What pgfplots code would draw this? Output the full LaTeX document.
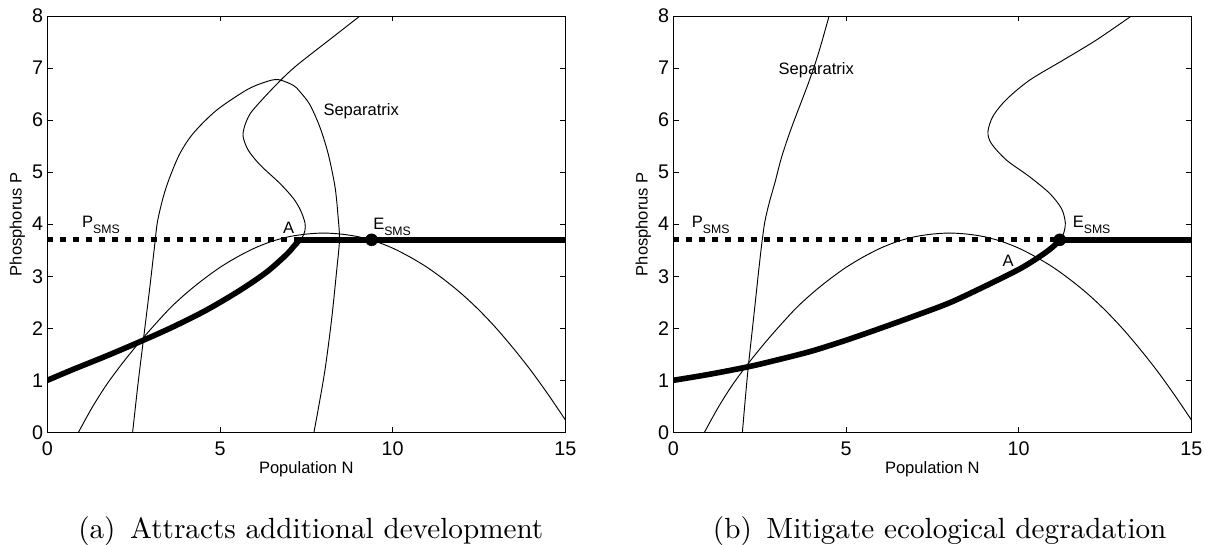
\documentclass[border=0pt]{standalone}
\usepackage{pgfplots}
\pgfplotsset{compat=1.18}
\usepackage{fontspec}
\newfontfamily\arial{Liberation Sans}
\newfontfamily\capfont{lmroman10-regular}[Extension=.otf]
\newcommand\sms{\raisebox{-4.4pt}{\fontsize{9.2}{9.2}\selectfont SMS}}
\tikzset{
  thinc/.style={black, line width=0.7pt, smooth, tension=0.5},
  thickc/.style={black, line width=4.2pt, line join=round, line cap=round, smooth, tension=0.5},
  thickh/.style={black, line width=4.2pt},
  dashedP/.style={black, line width=4pt, dash pattern=on 4.3pt off 5.45pt},
  note/.style={font=\arial\fontsize{12.4}{12.4}\selectfont, inner sep=0pt, anchor=base west},
}
\pgfplotsset{
 myax/.style={
  anchor=south west, scale only axis, width=388.5pt, height=312.2pt,
  xmin=0,xmax=15,ymin=0,ymax=8,
  xtick={0,5,10,15}, ytick={0,1,2,3,4,5,6,7,8},
  tick align=inside, major tick length=4pt,
  every tick/.style={black, line width=0.6pt},
  axis line style={line width=0.75pt},
  ticklabel style={font=\arial\fontsize{14.8}{14.8}\selectfont},
  /pgf/number format/assume math mode=true,
  xlabel={Population N}, ylabel={Phosphorus P},
  label style={font=\arial\fontsize{12.4}{12.4}\selectfont},
  xlabel style={at={(axis description cs:0.5,-0.089)},anchor=center},
  ylabel style={at={(axis description cs:-0.058,0.5)},anchor=center},
  xticklabel style={inner sep=0pt, yshift=-7pt},
  yticklabel style={inner sep=0pt, xshift=-3pt},
 }
}
\begin{document}
\begin{tikzpicture}
\path[use as bounding box] (0,0) rectangle (903.75pt,408.75pt);
% ---------------- (a)
\begin{axis}[myax, at={(35.5pt,84.5pt)}]
\addplot[dashedP] coordinates {(0,3.70) (7.31,3.70)};
\addplot[thinc] coordinates {(0.9,0) (1.3,0.48) (1.72,0.92) (2.2,1.35) (2.78,1.82) (3.5,2.35) (4.0,2.66) (4.5,2.93) (5.0,3.17) (5.5,3.37) (6.0,3.54) (6.5,3.67) (7.0,3.76) (7.5,3.81) (8.0,3.83) (8.5,3.81) (9.0,3.76) (9.5,3.67) (10.0,3.54) (10.5,3.37) (11.0,3.17) (11.5,2.93) (12.0,2.66) (12.5,2.35) (13.0,2.00) (13.5,1.61) (14.0,1.19) (14.5,0.73) (15.0,0.24)};
\addplot[thinc] coordinates {(2.47,0.0) (2.62,0.9) (2.78,1.77) (2.97,2.80) (3.10,3.55) (3.19,4.05) (3.36,4.53) (3.55,4.91) (3.84,5.36) (4.23,5.75) (4.90,6.19) (5.77,6.58) (6.30,6.73) (6.68,6.78) (7.12,6.67) (7.31,6.55) (7.60,6.30) (7.89,5.87) (8.13,5.36) (8.33,4.72) (8.42,4.14) (8.46,3.70) (8.38,3.12) (8.23,2.16) (8.04,1.20) (7.84,0.43) (7.72,0.0)};
\addplot[thinc] coordinates {(9.05,8.0) (8.18,7.55) (7.31,7.10) (6.93,6.88) (6.54,6.62) (6.16,6.35) (5.87,6.12) (5.71,5.88) (5.67,5.68) (5.82,5.42) (6.16,5.14) (6.74,4.78) (7.12,4.50) (7.33,4.27) (7.46,4.03) (7.46,3.88) (7.40,3.77) (7.31,3.70)};
\addplot[thickc] coordinates {(0,1.0) (0.75,1.21) (1.72,1.47) (2.78,1.77) (3.65,2.03) (4.61,2.35) (5.58,2.73) (6.35,3.08) (6.93,3.42) (7.17,3.60) (7.31,3.70)};
\addplot[thickh] coordinates {(7.31,3.70) (15,3.70)};
\addplot[black, only marks, mark=*, mark size=4.5pt] coordinates {(9.39,3.70)};
\node[note] at (axis cs:1.0,3.93) {P\sms};
\node[note] at (axis cs:6.82,3.82) {A};
\node[note] at (axis cs:9.43,3.90) {E\sms};
\node[note] at (axis cs:7.99,6.08) {Separatrix};
\end{axis}
% ---------------- (b)
\begin{axis}[myax, at={(505.0pt,84.5pt)}]
\addplot[dashedP] coordinates {(0,3.70) (11.19,3.70)};
\addplot[thinc] coordinates {(0.9,0) (1.3,0.48) (1.72,0.92) (2.2,1.35) (2.78,1.82) (3.5,2.35) (4.0,2.66) (4.5,2.93) (5.0,3.17) (5.5,3.37) (6.0,3.54) (6.5,3.67) (7.0,3.76) (7.5,3.81) (8.0,3.83) (8.5,3.81) (9.0,3.76) (9.5,3.67) (10.0,3.54) (10.5,3.37) (11.0,3.17) (11.5,2.93) (12.0,2.66) (12.5,2.35) (13.0,2.00) (13.5,1.61) (14.0,1.19) (14.5,0.73) (15.0,0.24)};
\addplot[thinc] coordinates {(2.0,0) (2.08,0.62) (2.17,1.26) (2.27,1.87) (2.37,2.48) (2.47,3.10) (2.56,3.62) (2.65,4.05) (2.78,4.42) (2.95,4.82) (3.14,5.30) (3.43,5.87) (3.91,6.71) (4.20,7.28) (4.51,8.0)};
\addplot[thinc] coordinates {(13.26,8.0) (12.25,7.54) (11.28,7.15) (10.32,6.77) (9.65,6.40) (9.26,6.08) (9.11,5.78) (9.21,5.55) (9.65,5.23) (10.32,4.91) (10.9,4.59) (11.24,4.30) (11.35,4.03) (11.30,3.82) (11.19,3.70)};
\addplot[thickc] coordinates {(0,1.0) (1,1.11) (2.17,1.26) (3,1.39) (4,1.56) (5,1.77) (6,2.0) (7,2.24) (8,2.49) (9,2.80) (10,3.13) (10.5,3.33) (10.85,3.49) (11.05,3.60) (11.19,3.70)};
\addplot[thickh] coordinates {(11.19,3.70) (15,3.70)};
\addplot[black, only marks, mark=*, mark size=4.5pt] coordinates {(11.19,3.70)};
\node[note] at (axis cs:0.53,3.93) {P\sms};
\node[note] at (axis cs:9.53,3.18) {A};
\node[note] at (axis cs:11.56,3.93) {E\sms};
\node[note] at (axis cs:3.04,6.87) {Separatrix};
\end{axis}
\node[anchor=base west, inner sep=0pt, font=\capfont\fontsize{21.9}{22}\selectfont] at (58.5pt,4.5pt) {(a)\hspace{0.5em}Attracts additional development};
\node[anchor=base west, inner sep=0pt, font=\capfont\fontsize{21.9}{22}\selectfont] at (534.5pt,4.5pt) {(b)\hspace{0.5em}Mitigate ecological degradation};
\end{tikzpicture}
\end{document}
